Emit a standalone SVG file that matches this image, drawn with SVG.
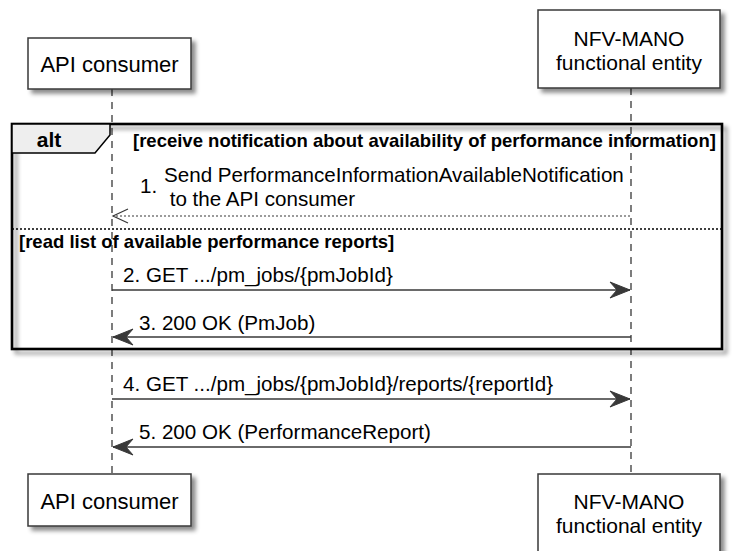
<svg xmlns="http://www.w3.org/2000/svg" width="733" height="551" viewBox="0 0 733 551">
<defs>
<filter id="sh" x="-10%" y="-10%" width="130%" height="140%">
<feDropShadow dx="4" dy="4" stdDeviation="2.2" flood-color="#000" flood-opacity="0.45"/>
</filter>
<marker id="fill" markerUnits="userSpaceOnUse" markerWidth="22" markerHeight="18" refX="21" refY="8" orient="auto-start-reverse" viewBox="0 0 22 16">
<polygon points="21,8 1,0 8,8 1,16" fill="#383838" stroke="#383838" stroke-width="1"/>
</marker>
<marker id="open" markerUnits="userSpaceOnUse" markerWidth="18" markerHeight="18" refX="16" refY="8" orient="auto-start-reverse" viewBox="0 0 18 16">
<polyline points="1,1 16,8 1,15" fill="none" stroke="#383838" stroke-width="1.2"/>
</marker>
</defs>
<style>
.box{fill:#fff;stroke:#383838;stroke-width:1.5;filter:url(#sh)}
.pt{font-family:"Liberation Sans",Arial,sans-serif;font-size:22px;fill:#000;text-anchor:middle}
.pt2{font-family:"Liberation Sans",Arial,sans-serif;font-size:21px;fill:#000;text-anchor:middle}
.msg{font-family:"Liberation Sans",Arial,sans-serif;font-size:20.6px;fill:#000}
.grd{font-family:"Liberation Sans",Arial,sans-serif;font-size:18.5px;font-weight:bold;fill:#000}
.life{stroke:#383838;stroke-width:1.3;stroke-dasharray:7,6;fill:none}
.arr{stroke:#383838;stroke-width:1.5;fill:none}
.dash{stroke:#383838;stroke-width:1.2;stroke-dasharray:2,2;fill:none}
</style>

<g id="lifelines">
<line class="life" x1="112" y1="89" x2="112" y2="474"/>
<line class="life" x1="631" y1="88" x2="631" y2="474"/>
</g>

<g id="alt-frame">
<rect x="12" y="124" width="710" height="225" fill="none" stroke="#000" stroke-width="2.6" filter="url(#sh)"/>
<polygon points="12,124 110,124 110,135 95,153 12,153" fill="#EEEEEE" stroke="#000" stroke-width="1.5"/>
<text x="49" y="147" font-family="'Liberation Sans',Arial,sans-serif" font-size="21" font-weight="bold" text-anchor="middle" fill="#000">alt</text>
<text class="grd" x="133" y="147">[receive notification about availability of performance information]</text>
<line x1="12" y1="229" x2="722" y2="229" stroke="#000" stroke-width="1.3" stroke-dasharray="2,2"/>
<text class="grd" x="19" y="248">[read list of available performance reports]</text>
</g>

<g id="api-consumer-top">
<rect class="box" x="28" y="38" width="163" height="51"/>
<text class="pt" x="109.5" y="72">API consumer</text>
</g>
<g id="nfv-mano-top">
<rect class="box" x="538" y="10" width="182" height="78"/>
<text class="pt2" x="629" y="46">NFV-MANO</text>
<text class="pt2" x="629" y="70">functional entity</text>
</g>
<g id="api-consumer-bottom">
<rect class="box" x="28" y="474" width="163" height="52"/>
<text class="pt" x="109.5" y="509">API consumer</text>
</g>
<g id="nfv-mano-bottom">
<rect class="box" x="538" y="474" width="182" height="78"/>
<text class="pt2" x="629" y="509">NFV-MANO</text>
<text class="pt2" x="629" y="533">functional entity</text>
</g>

<g id="connectors">
<line class="dash" x1="630" y1="216" x2="113" y2="216" marker-end="url(#open)"/>
<text class="msg" x="140" y="193" font-size="19">1.</text>
<text class="msg" x="164" y="182">Send PerformanceInformationAvailableNotification</text>
<text class="msg" x="164" y="206" xml:space="preserve"> to the API consumer</text>

<line class="arr" x1="112" y1="290" x2="630" y2="290" marker-end="url(#fill)"/>
<text class="msg" x="123" y="282">2. GET .../pm_jobs/{pmJobId}</text>

<line class="arr" x1="631" y1="337" x2="113" y2="337" marker-end="url(#fill)"/>
<text class="msg" x="139" y="330">3. 200 OK (PmJob)</text>

<line class="arr" x1="112" y1="399" x2="630" y2="399" marker-end="url(#fill)"/>
<text class="msg" x="123" y="391">4. GET .../pm_jobs/{pmJobId}/reports/{reportId}</text>

<line class="arr" x1="631" y1="447" x2="113" y2="447" marker-end="url(#fill)"/>
<text class="msg" x="139" y="439">5. 200 OK (PerformanceReport)</text>
</g>
</svg>
